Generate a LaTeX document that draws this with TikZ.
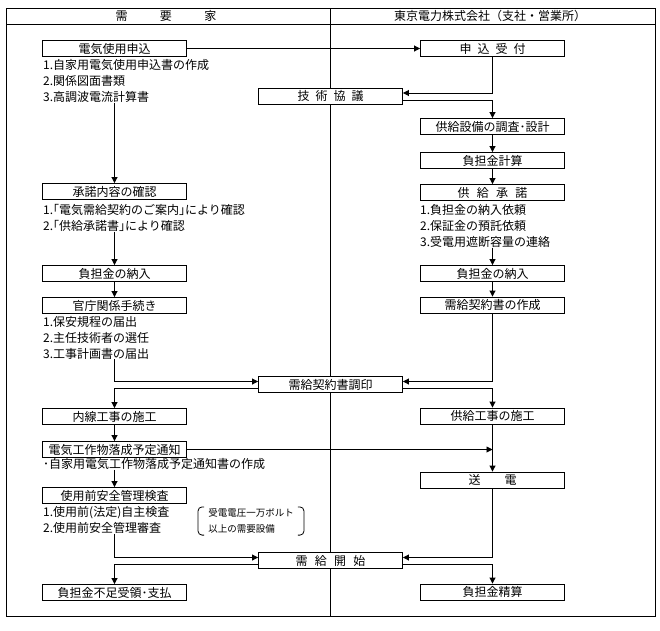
\documentclass[tikz,border=0pt]{standalone}
\usepackage{fontspec}
\setmainfont{Noto Sans CJK JP}
\usetikzlibrary{arrows.meta}
\usetikzlibrary{calc}
\tikzset{>={Triangle[length=6pt,width=6pt]}}

\begin{document}
\begin{tikzpicture}[x=1pt,y=-1pt,
    box/.style={draw,fill=white,line width=0.9pt,minimum width=144pt,minimum height=16pt,
                inner sep=0pt,font=\fontsize{12}{14}\selectfont},
    items/.style={anchor=north west,align=left,inner sep=0pt,font=\fontsize{12}{16}\selectfont},
    flow/.style={->,line width=0.9pt},
    frame/.style={line width=0.9pt},
  ]
  \useasboundingbox (0,0) rectangle (660,630);
  
  \def\xl{114.5} % left column
  \def\xc{330.5} % center
  \def\xr{492.5} % right column
  \def\din{3pt}  % arrow in, upper half of center boxes
  \def\dout{-4pt}% line out, lower half
  
  % FRAME
  \draw[frame] (6,8) rectangle (655,616);
  \draw[frame] (6,24) -- (655,24);
  \draw[frame] (330,8) -- (330,616);
  \node[font=\fontsize{12}{14}\selectfont] (juyouka) at (166,16) {需\hspace{2.7em}要\hspace{2.7em}家};
  \node[font=\fontsize{12}{14}\selectfont] (touden) at (490,16) {東京電力株式会社（支社・営業所）};
  
  % LEFT COLUMN
  \node[box] (mosikomi) at (\xl,48.5)  {電気使用申込};
  \node[items] (mosikomiitems) at (43,59) {1.自家用電気使用申込書の作成\\2.関係図面書類\\3.高調波電流計算書};
  \node[box] (shounin)  at (\xl,191.5) {承諾内容の確認};
  \node[items] (shouninitems) at (43,204) {1.｢電気需給契約のご案内｣により確認\\2.｢供給承諾書｣により確認};
  \node[box] (nounyuL)  at (\xl,273.5) {負担金の納入};
  \node[box] (kancho)   at (\xl,305.5) {官庁関係手続き};
  \node[items] (kanchoitems) at (43,316) {1.保安規程の届出\\2.主任技術者の選任\\3.工事計画書の届出};
  \node[box] (naisen)   at (\xl,416.5) {内線工事の施工};
  \node[box] (rakusei)  at (\xl,449.5) {電気工作物落成予定通知};
  \node[items] (rakuseiitem) at (43,458) {･自家用電気工作物落成予定通知書の作成};
  \node[box] (kensa)    at (\xl,495.5) {使用前安全管理検査};
  \node[items] (kensaitems) at (43,506) {1.使用前(法定)自主検査\\2.使用前安全管理審査};
  \node[align=left,inner xsep=10pt,inner ysep=1.5pt,font=\fontsize{9.5}{16}\selectfont]
    (note) at (251,521) {受電電圧一万ボルト\\以上の需要設備};
  \draw[line width=0.8pt,rounded corners=4pt]
    ([xshift=6pt]note.north west) -- (note.north west) -- (note.south west) -- ([xshift=6pt]note.south west);
  \draw[line width=0.8pt,rounded corners=4pt]
    ([xshift=-6pt]note.north east) -- (note.north east) -- (note.south east) -- ([xshift=-6pt]note.south east);
  \node[box] (fusoku)   at (\xl,592.5) {負担金不足受領･支払};
  
  % CENTER
  \node[box] (kyougi)   at (\xc,96)    {技\hspace{0.5em}術\hspace{0.5em}協\hspace{0.5em}議};
  \node[box] (chouin)   at (\xc,384.5) {需給契約書調印};
  \node[box] (kaishi)   at (\xc,560.5) {需\hspace{0.6em}給\hspace{0.6em}開\hspace{0.6em}始};
  
  % RIGHT COLUMN
  \node[box] (uketuke)  at (\xr,48.5)  {申\hspace{0.5em}込\hspace{0.5em}受\hspace{0.5em}付};
  \node[box] (chousa)   at (\xr,126.5) {供給設備の調査･設計};
  \node[box] (keisan)   at (\xr,160.5) {負担金計算};
  \node[box] (shoudaku) at (\xr,192.5) {供\hspace{0.6em}給\hspace{0.6em}承\hspace{0.6em}諾};
  \node[items] (shoudakuitems) at (420,204) {1.負担金の納入依頼\\2.保証金の預託依頼\\3.受電用遮断容量の連絡};
  \node[box] (nounyuR)  at (\xr,273.5) {負担金の納入};
  \node[box] (sakusei)  at (\xr,305)   {需給契約書の作成};
  \node[box] (kouji)    at (\xr,416)   {供給工事の施工};
  \node[box] (souden)   at (\xr,480)   {送\hspace{2em}電};
  \node[box] (seisan)   at (\xr,592)   {負担金精算};
  
  % FLOW
  \draw[flow] (mosikomi.east) -- (uketuke.west);
  \draw[flow] (uketuke.south) |- ([yshift=\din]kyougi.east);
  \draw[flow] ([yshift=\dout]kyougi.east) -| (chousa.north);
  \draw[flow] (mosikomiitems.south -| mosikomi.south) -- (shounin.north);
  \draw[flow] (chousa) -- (keisan);
  \draw[flow] (keisan) -- (shoudaku);
  \draw[flow] (shouninitems.south -| shounin.south) -- (nounyuL.north);
  \draw[flow] (shoudakuitems.south -| shoudaku.south) -- (nounyuR.north);
  \draw[flow] (nounyuL) -- (kancho);
  \draw[flow] (nounyuR) -- (sakusei);
  \draw[flow] (kanchoitems.south -| kancho.south) |- ([yshift=\din]chouin.west);
  \draw[flow] (sakusei.south) |- ([yshift=\din]chouin.east);
  \draw[flow] ([yshift=\dout]chouin.west) -| (naisen.north);
  \draw[flow] ([yshift=\dout]chouin.east) -| (kouji.north);
  \draw[flow] (naisen) -- (rakusei);
  \draw[flow] (rakusei.east) -- (rakusei.east -| kouji.south);
  \draw[flow] (kouji) -- (souden);
  \draw[flow] (rakuseiitem.south -| rakusei.south) -- (kensa.north);
  \draw[flow] (kensaitems.south -| kensa.south) |- ([yshift=\din]kaishi.west);
  \draw[flow] (souden.south) |- ([yshift=\din]kaishi.east);
  \draw[flow] ([yshift=\dout]kaishi.west) -| (fusoku.north);
  \draw[flow] ([yshift=\dout]kaishi.east) -| (seisan.north);
  
\end{tikzpicture}
\end{document}
